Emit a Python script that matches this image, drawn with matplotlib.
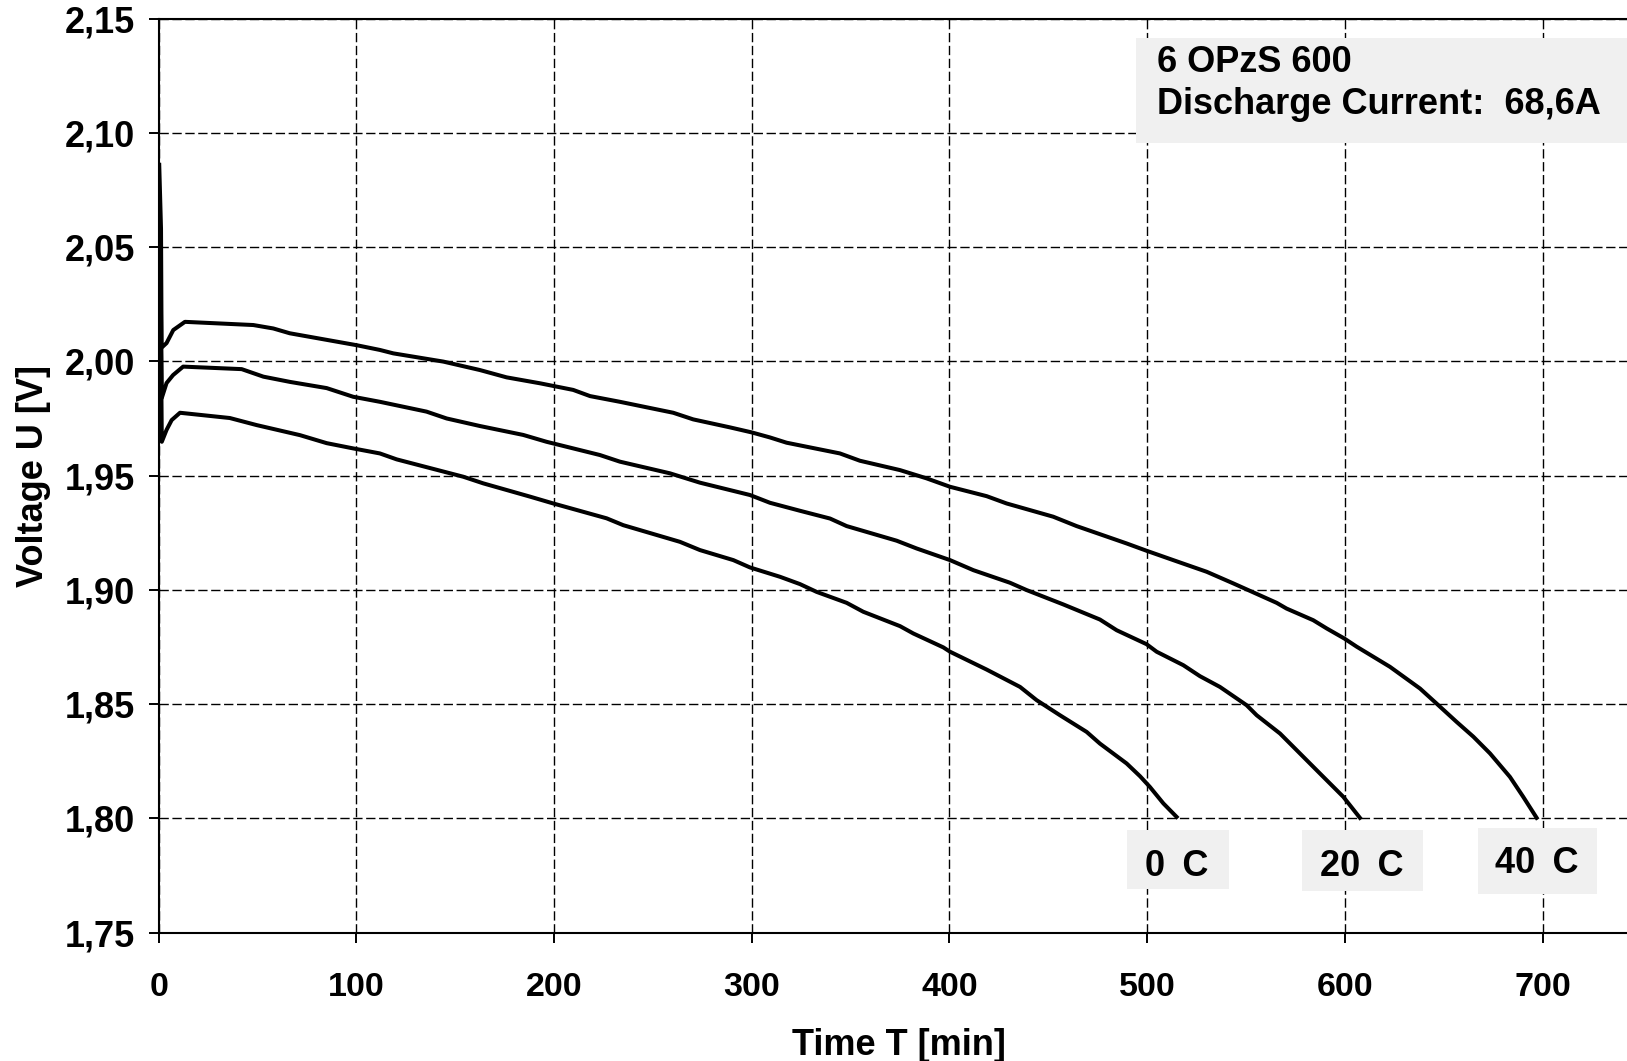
import matplotlib.pyplot as plt
from matplotlib.patches import Rectangle

# Discharge curves of a 6 OPzS 600 cell at 68,6 A, three temperatures
time_40 = [0.3, 1.2, 1.5, 4, 7.4, 13.3, 47.9, 58, 66.3, 100, 111.9, 118.7, 144,
           162.5, 176, 192.9, 209.7, 218.2, 233.3, 246.8, 260.3, 270.4, 289,
           300, 309.2, 317.6, 344.6, 354.7, 375, 388.4, 400.3, 418.8, 428.9,
           452.5, 464.3, 489.6, 499.7, 513.2, 530.1, 543.6, 550.3, 565.5,
           570.5, 584, 590.8, 599.7, 606, 622.8, 638, 646.4, 656.5, 665,
           673.4, 683.5, 690.2, 697]
volt_40 = [2.086, 2.058, 2.006, 2.008, 2.0137, 2.0173, 2.0159, 2.0144, 2.0123,
           2.0071, 2.0050, 2.0035, 1.9999, 1.9962, 1.9930, 1.9904, 1.9875,
           1.9848, 1.9823, 1.9799, 1.9775, 1.9746, 1.9711, 1.9689, 1.9667,
           1.9644, 1.9597, 1.9565, 1.9524, 1.9488, 1.9451, 1.9410, 1.9378,
           1.9320, 1.9279, 1.9203, 1.9171, 1.9130, 1.9079, 1.9028, 1.9002,
           1.8943, 1.8918, 1.8867, 1.8831, 1.8787, 1.8751, 1.8663, 1.8568,
           1.8502, 1.8422, 1.8357, 1.8284, 1.8181, 1.8094, 1.8002]

time_20 = [0.8, 1.6, 4, 7.3, 12.4, 42, 53, 66.5, 85, 98.4, 111.9, 135.5, 145.7,
           162.5, 184.4, 196.2, 223.2, 233.3, 258.6, 273.8, 299.1, 309.2,
           324.4, 339.6, 348, 373.3, 383.4, 400.3, 412.1, 430.6, 439, 457.6,
           476.1, 484.6, 499.7, 504.8, 518.3, 526.7, 536.8, 550.3, 555.4,
           567.2, 573.9, 587.4, 599.2, 607.6]
volt_20 = [2.057, 1.9840, 1.9905, 1.9940, 1.9977, 1.9966, 1.9933, 1.9910,
           1.9883, 1.9845, 1.9823, 1.9780, 1.9750, 1.9717, 1.9678, 1.9648,
           1.9590, 1.9561, 1.9510, 1.9469, 1.9415, 1.9381, 1.9346, 1.9312,
           1.9279, 1.9215, 1.9181, 1.9130, 1.9086, 1.9031, 1.8999, 1.8936,
           1.8870, 1.8823, 1.8762, 1.8729, 1.8670, 1.8622, 1.8575, 1.8495,
           1.8451, 1.8371, 1.8313, 1.8196, 1.8094, 1.8002]

time_0 = [0.8, 1.6, 4, 6.6, 10.8, 36, 49.6, 71.5, 85, 98.4, 111.9, 120.4, 154.1,
          164.2, 187.8, 199.6, 226.6, 235, 263.7, 273.8, 290.7, 299.1, 314.3,
          324.4, 332.8, 348, 356.4, 375, 381.7, 396.9, 400.3, 418.8, 435.7,
          444.1, 455.9, 469.4, 476.1, 489.6, 496.4, 501.4, 508.2, 514.9]
volt_0 = [2.050, 1.9648, 1.9700, 1.9743, 1.9775, 1.9752, 1.9721, 1.9677,
          1.9642, 1.9619, 1.9597, 1.9571, 1.9495, 1.9466, 1.9408, 1.9378,
          1.9313, 1.9283, 1.9210, 1.9174, 1.9130, 1.9098, 1.9057, 1.9025,
          1.8991, 1.8943, 1.8904, 1.8841, 1.8809, 1.8748, 1.8729, 1.8651,
          1.8575, 1.8517, 1.8451, 1.8378, 1.8327, 1.8240, 1.8184, 1.8137,
          1.8065, 1.8006]

x_ticks = [0, 100, 200, 300, 400, 500, 600, 700]
y_ticks = [1.75, 1.80, 1.85, 1.90, 1.95, 2.00, 2.05, 2.10, 2.15]
y_tick_labels = ['1,75', '1,80', '1,85', '1,90', '1,95', '2,00', '2,05', '2,10', '2,15']

temp_labels = ['0 \u2009C', '20 \u2009C', '40 \u2009C']
temp_label_x = [515.0, 608.3, 697.0]
temp_label_y = [1.7789, 1.7789, 1.7803]
# grey boxes behind the temperature labels (centre x, centre y, width, height)
temp_box_x = [515.7, 609.0, 697.4]
temp_box_y = [1.7819, 1.7814, 1.7812]
temp_box_w = [51.6, 61.2, 60.2]
temp_box_h = [0.0258, 0.0267, 0.0289]

plt.rcParams['font.family'] = ['Liberation Sans', 'DejaVu Sans']
plt.rcParams['font.weight'] = 'bold'

fig = plt.figure(figsize=(16.27, 10.61), dpi=100)
ax = fig.add_axes([0.0975, 0.1211, 0.9025, 0.8613])

for t, v in [(time_0, volt_0), (time_20, volt_20), (time_40, volt_40)]:
    ax.plot(t, v, color='black', lw=2.9, solid_joinstyle='round')

ax.set_xlim(0, 742.7)
ax.set_ylim(1.75, 2.15)
ax.set_xticks(x_ticks)
ax.set_xticklabels([str(x) for x in x_ticks])
ax.set_yticks(y_ticks)
ax.set_yticklabels(y_tick_labels)

ax.set_axisbelow(True)
ax.grid(True, color='black', linestyle=(0, (6.7, 2.6)), lw=1.0)

for side in ['left', 'bottom', 'top']:
    ax.spines[side].set_linewidth(1.5)
ax.spines['right'].set_visible(False)

ax.tick_params(axis='both', direction='out', length=7.2, width=1.4)
ax.tick_params(axis='x', pad=21, labelsize=24.5)
ax.tick_params(axis='y', pad=10, labelsize=26)

ax.set_xlabel('Time T [min]', fontsize=26, fontweight='bold', va='center')
ax.set_ylabel('Voltage U [V]', fontsize=26, fontweight='bold', va='center')
ax.xaxis.set_label_coords(0.504, -0.1235)
ax.yaxis.set_label_coords(-0.085, 0.5)

# info box, top right
ax.add_patch(Rectangle((0.6656, 0.864), 0.40, 0.115, transform=ax.transAxes,
                       facecolor='#f0f0f0', edgecolor='none', zorder=3,
                       clip_on=False))
ax.text(0.680, 0.929, '6 OPzS 600\nDischarge Current:  68,6A',
        transform=ax.transAxes, fontsize=26, fontweight='bold',
        va='center', ha='left', linespacing=1.26, zorder=4)

# temperature labels at the end of each curve
for bx, by, bw, bh in zip(temp_box_x, temp_box_y, temp_box_w, temp_box_h):
    ax.add_patch(Rectangle((bx - bw / 2, by - bh / 2), bw, bh,
                           facecolor='#f0f0f0', edgecolor='none', zorder=3))
for lbl, x, y in zip(temp_labels, temp_label_x, temp_label_y):
    ax.text(x, y, lbl, fontsize=26, fontweight='bold',
            ha='center', va='center', zorder=4)

fig.savefig('out.png', dpi=100)
